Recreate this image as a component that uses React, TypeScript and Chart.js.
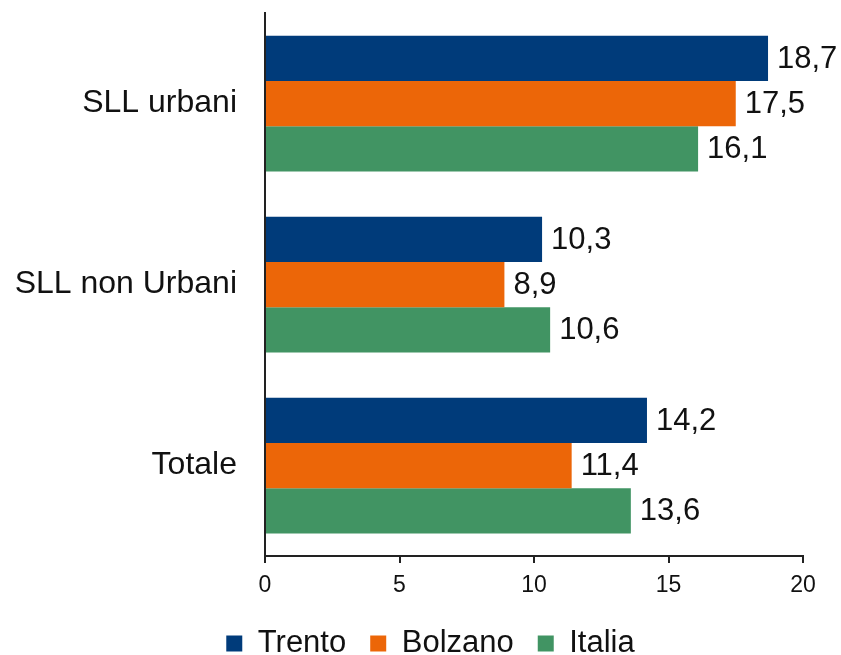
import React, { useEffect, useRef } from "react";
import { Chart, registerables } from "chart.js";

Chart.register(...registerables);

const categories = ["SLL urbani", "SLL non Urbani", "Totale"];
const trento = [18.7, 10.3, 14.2];
const bolzano = [17.5, 8.9, 11.4];
const italia = [16.1, 10.6, 13.6];
const seriesNames = ["Trento", "Bolzano", "Italia"];
const colors = ["#003B7A", "#EC6608", "#419463"];

const FONT = "'Liberation Sans', Arial, sans-serif";

const valueLabels = {
  id: "valueLabels",
  afterDatasetsDraw(chart: any) {
    const ctx = chart.ctx;
    ctx.save();
    ctx.font = `31px ${FONT}`;
    ctx.fillStyle = "#111";
    ctx.textAlign = "left";
    ctx.textBaseline = "middle";
    chart.data.datasets.forEach((ds: any, i: number) => {
      const meta = chart.getDatasetMeta(i);
      meta.data.forEach((el: any, j: number) => {
        const v = ds.data[j];
        ctx.fillText(v.toFixed(1).replace(".", ","), el.x + 9, el.y + 1);
      });
    });
    ctx.restore();
  },
};

export default function App() {
  const ref = useRef<HTMLCanvasElement>(null);
  useEffect(() => {
    const chart = new Chart(ref.current!, {
      type: "bar",
      data: {
        labels: categories,
        datasets: [trento, bolzano, italia].map((d, i) => ({
          label: seriesNames[i],
          data: d,
          backgroundColor: colors[i],
          borderWidth: 0,
          categoryPercentage: 0.75,
          barPercentage: 1,
        })),
      },
      options: {
        indexAxis: "y",
        animation: false,
        responsive: false,
        maintainAspectRatio: false,
        layout: { padding: { left: 20, right: 0, top: 13, bottom: -14 } },
        plugins: {
          tooltip: { enabled: false },
          legend: {
            position: "bottom",
            labels: {
              font: { family: FONT, size: 31 },
              color: "#111",
              boxWidth: 16,
              boxHeight: 16,
              padding: 24,
            },
          },
        },
        scales: {
          x: {
            min: 0,
            max: 20,
            ticks: {
              stepSize: 5,
              color: "#111",
              font: { family: FONT, size: 23 },
              padding: 9,
            },
            grid: {
              display: true,
              drawOnChartArea: false,
              drawTicks: true,
              tickLength: 7,
              color: "#222",
              lineWidth: 2,
            },
            border: { display: true, color: "#222", width: 2 },
            afterFit: (s: any) => {
              s.height = 48;
              s.paddingRight = 38;
              s.paddingLeft = 0;
            },
          },
          y: {
            ticks: {
              color: "#111",
              font: { family: FONT, size: 32 },
              padding: 20,
            },
            grid: { display: false },
            border: { display: true, color: "#222", width: 2 },
            afterFit: (s: any) => {
              s.width = 245;
              s.paddingTop = 0;
              s.paddingBottom = 0;
              s._computeLabelArea = () => undefined;
            },
          },
        },
      },
      plugins: [valueLabels],
    });
    return () => chart.destroy();
  }, []);
  return (
    <div style={{ position: "absolute", left: 0, top: 0, width: 841, height: 655 }}>
      <canvas ref={ref} width={841} height={655} />
    </div>
  );
}
